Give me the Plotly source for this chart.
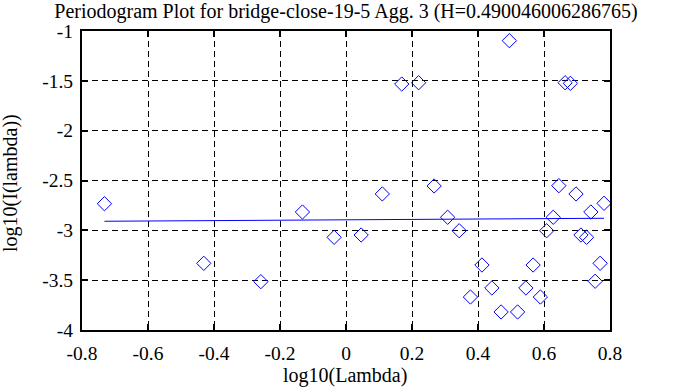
import plotly.graph_objects as go

# Periodogram points: log10(lambda), log10(I(lambda))
log_lambda = [-0.732, -0.431, -0.258, -0.132, -0.036, 0.046, 0.110, 0.169, 0.220,
              0.267, 0.308, 0.343, 0.377, 0.412, 0.442, 0.470, 0.495, 0.520, 0.545,
              0.567, 0.589, 0.608, 0.628, 0.645, 0.664, 0.680, 0.697, 0.712, 0.729,
              0.742, 0.755, 0.770, 0.782]
log_I = [-2.733, -3.331, -3.515, -2.816, -3.070, -3.047, -2.635, -1.532, -1.519,
         -2.555, -2.869, -3.004, -3.669, -3.348, -3.578, -3.819, -1.097, -3.819, -3.578,
         -3.348, -3.669, -3.004, -2.869, -2.552, -1.519, -1.525, -2.635, -3.047, -3.070,
         -2.816, -3.511, -3.331, -2.729]

# Least-squares fit line end points
fit_x = [-0.732, 0.782]
fit_y = [-2.909, -2.879]

x_ticks = [-0.8, -0.6, -0.4, -0.2, 0, 0.2, 0.4, 0.6, 0.8]
x_tick_text = ["-0.8", "-0.6", "-0.4", "-0.2", "0", "0.2", "0.4", "0.6", "0.8"]
y_ticks = [-4, -3.5, -3, -2.5, -2, -1.5, -1]
y_tick_text = ["-4", "-3.5", "-3", "-2.5", "-2", "-1.5", "-1"]

title = "Periodogram Plot for bridge-close-19-5 Agg. 3 (H=0.490046006286765)"
x_title = "log10(Lambda)"
y_title = "log10(I(lambda))"

font = "Liberation Serif, Times New Roman, serif"
W, H = 688, 387
L, R, T, B = 82, 78, 31, 57
pw, ph = W - L - R, H - T - B

fig = go.Figure()
fig.add_trace(go.Scatter(x=log_lambda, y=log_I, mode="markers",
                         marker=dict(symbol="diamond-open", size=11,
                                     color="#0000ff", line=dict(width=1, color="#0000ff")),
                         showlegend=False))
fig.add_trace(go.Scatter(x=fit_x, y=fit_y, mode="lines",
                         line=dict(color="#0000ff", width=1), showlegend=False))

axis_common = dict(showline=True, linecolor="black", linewidth=2, mirror="ticks",
                   ticks="inside", ticklen=6, tickwidth=2, tickcolor="black",
                   showgrid=True, gridcolor="black", gridwidth=1, griddash="6px,4px",
                   zeroline=False, automargin=False,
                   tickfont=dict(family=font, size=19.5, color="black"))

fig.update_layout(
    width=W, height=H,
    margin=dict(l=L, r=R, t=T, b=B),
    paper_bgcolor="white", plot_bgcolor="white",
    title=dict(text=title, x=346 / W, xanchor="center", xref="container",
               y=1 - 11 / H, yanchor="middle", yref="container",
               font=dict(family=font, size=20, color="black")),
    xaxis=dict(range=[-0.8, 0.8], tickvals=x_ticks, ticktext=x_tick_text,
               ticklabelstandoff=5, **axis_common),
    yaxis=dict(range=[-4, -1], tickvals=y_ticks, ticktext=y_tick_text,
               ticklabelstandoff=3, **axis_common),
    annotations=[
        dict(text=x_title, xref="paper", yref="paper", x=(345 - L) / pw, y=(H - B - 376) / ph,
             xanchor="center", yanchor="middle", showarrow=False,
             font=dict(family=font, size=20, color="black")),
        dict(text=y_title, xref="paper", yref="paper", x=(10 - L) / pw, y=(H - B - 183) / ph,
             xanchor="center", yanchor="middle", showarrow=False, textangle=-90,
             font=dict(family=font, size=20, color="black")),
    ],
)

fig.write_html("out.html", config={"displayModeBar": False},
               post_script="document.body.style.margin='0';document.body.style.overflow='hidden';")
